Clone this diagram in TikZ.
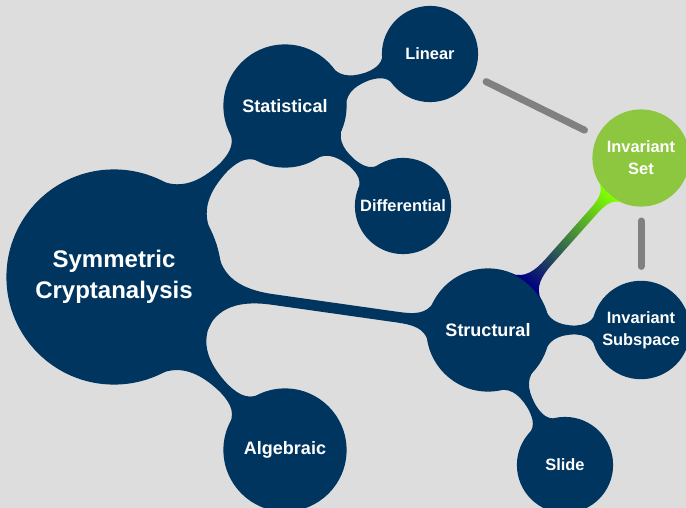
\documentclass[tikz,border=0pt]{standalone}
\usepackage{fontspec}
\setmainfont{Liberation Sans}
\usetikzlibrary{mindmap}
\definecolor{nodeblue}{RGB}{0,53,96}
\definecolor{setgreen}{RGB}{141,198,63}
\definecolor{barnavy}{RGB}{0,0,128}
\definecolor{barlime}{RGB}{128,255,0}
\definecolor{linkgray}{RGB}{128,128,128}
\definecolor{bggray}{RGB}{221,221,221}
\tikzstyle{rootconcept} = [concept, minimum size=214pt, text width=175pt, inner sep=0pt, font=\bfseries\fontsize{24}{31}\selectfont]
\tikzstyle{mainconcept} = [concept, minimum size=122pt, text width=105pt, inner sep=0pt, font=\bfseries\fontsize{18}{22}\selectfont]
\tikzstyle{subconcept} = [concept, minimum size=95pt, text width=90pt, inner sep=0pt, font=\bfseries\fontsize{16.4}{22}\selectfont]
\tikzstyle{bar} = [circle connection bar, line width=9pt]
\tikzstyle{relation} = [line width=7pt, line cap=round, draw=linkgray, shorten <=15pt, shorten >=15pt]

\begin{document}
\begin{tikzpicture}[mindmap, concept color=nodeblue, text=white, x=1pt, y=-1pt, node distance=150pt]
			\fill[bggray] (0,0) rectangle (686,508);
			\useasboundingbox (0,0) rectangle (686,508);
			\node(root)[rootconcept] at (114,277) {Symmetric\\Cryptanalysis};
			\node(stat)[mainconcept, right of=root, xshift=21pt, yshift=171pt] {Statistical};
			\node(alg)[mainconcept, right of=root, xshift=21pt, yshift=-173pt] {Algebraic};
			\node(struct)[mainconcept, right of=root, xshift=224pt, yshift=-53pt] {Structural};
			\node(linear)[subconcept, right of=stat, xshift=-5pt, yshift=52pt] {Linear};
			\node(diff)[subconcept, right of=stat, xshift=-32pt, yshift=-100pt] {Differential};
			\node(subsp)[subconcept, right of=struct, xshift=3pt] {Invariant\\Subspace};
			\node(slide)[subconcept, right of=struct, xshift=-73pt, yshift=-135pt] {Slide};
			\node(invset)[subconcept, concept color=setgreen, fill=setgreen, above of=subsp, yshift=22pt] {Invariant\\Set};

			\path (root) to[bar] (stat);
			\path (root) to[bar] (alg);
			\path (root) to[bar] (struct);
			\path (stat) to[bar] (linear);
			\path (stat) to[bar] (diff);
			\path (struct) to[bar] (subsp);
			\path (struct) to[bar] (slide);
			\path (struct) to[circle connection bar switch color=from (barnavy) to (barlime), line width=9pt] (invset);
			\draw [relation] (linear) -- (invset);
			\draw [relation] (invset) -- (subsp);
		\end{tikzpicture}
\end{document}
